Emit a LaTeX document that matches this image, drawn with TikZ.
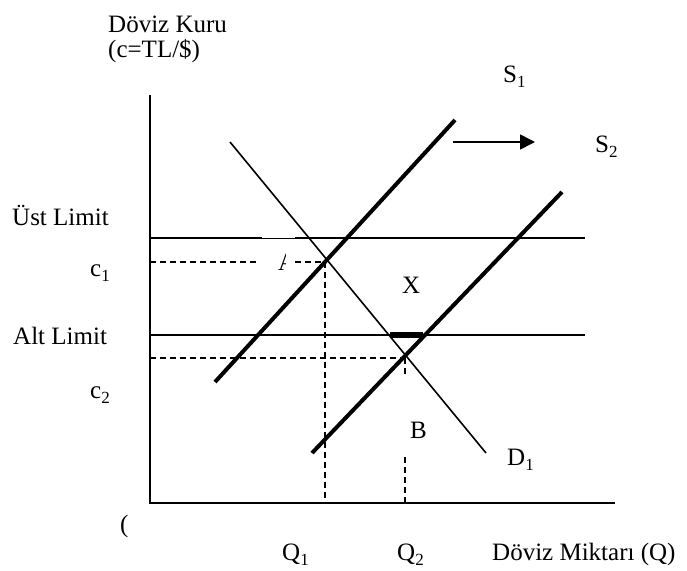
\documentclass[tikz,border=0pt]{standalone}
\usepackage{fontspec}
\setmainfont{Liberation Serif}
\usetikzlibrary{arrows.meta}
\newcommand{\lsub}[1]{\raisebox{-5pt}{\fontsize{17}{17}\selectfont #1}}
\begin{document}
\begin{tikzpicture}[x=1pt,y=-1pt,
  lbl/.style={anchor=base west, inner sep=0pt, font=\fontsize{25}{30}\selectfont},
  axisline/.style={line width=2pt},
  limitline/.style={line width=2.5pt},
  supplyline/.style={line width=4pt},
  demandline/.style={line width=1.6pt},
  guide/.style={line width=1.5pt, dash pattern=on 6pt off 4pt},
  shiftarrow/.style={line width=1.6pt, -{Triangle[length=15pt,width=15pt]}}]
\useasboundingbox (0,0) rectangle (687,570);
% axes
\coordinate (O) at (150,503);
\coordinate (Ytop) at (150,95);
\coordinate (Xend) at (615,503);
\draw[axisline] (Ytop) -- (O) -- (Xend);
% limits
\coordinate (U0) at (150,238);
\coordinate (U1) at (262,238);
\coordinate (U2) at (295,238);
\coordinate (U3) at (585,238);
\draw[limitline] (U0) -- (U1);
\draw[line width=0.8pt] (U1) -- (U2);
\draw[limitline] (U2) -- (U3);
\coordinate (L0) at (150,335);
\coordinate (L1) at (585,335);
\draw[limitline] (L0) -- (L1);
% equilibrium points
\coordinate (A) at (325,262);
\coordinate (Bp) at (405,358);
% guides
\coordinate (c1a) at (150,262);
\coordinate (c1b) at (258,262);
\coordinate (c1c) at (295,262);
\draw[guide] (c1a) -- (c1b);
\draw[guide] (c1c) -- (A);
\coordinate (Q1a) at (325,503);
\draw[guide] (A) -- (Q1a);
\coordinate (c2a) at (150,358);
\draw[guide] (c2a) -- (Bp);
\coordinate (Q2m) at (405,376);
\coordinate (Q2n) at (405,457);
\coordinate (Q2a) at (405,503);
\draw[guide] (Bp) -- (Q2m);
\draw[guide] (Q2n) -- (Q2a);
% demand
\coordinate (D0) at (230,142);
\coordinate (D1e) at (486,453);
\draw[demandline] (D0) -- (D1e);
% supply
\coordinate (S1a) at (215,382);
\coordinate (S1b) at (455,120);
\draw[supplyline] (S1a) -- (S1b);
\coordinate (S2a) at (312,453);
\coordinate (S2b) at (562,192);
\draw[supplyline] (S2a) -- (S2b);
% gap on lower limit
\coordinate (G0) at (390,335);
\coordinate (G1) at (423,335);
\draw[line width=5.5pt] (G0) -- (G1);
% shift arrow
\coordinate (R0) at (453,142);
\coordinate (R1) at (535,142);
\draw[shiftarrow] (R0) -- (R1);
% clipped A label
\begin{scope}
  \clip (270,245) rectangle (285,276);
  \node[lbl] (Alab) at (278,270) {A};
\end{scope}
% labels
\node[lbl] (ylab1) at (108,32) {Döviz Kuru};
\node[lbl] (ylab2) at (108,57) {(c=TL/\$)};
\node[lbl] (ust) at (12,225) {Üst Limit};
\node[lbl] (c1) at (90,276) {c\lsub{1}};
\node[lbl] (alt) at (13,344) {Alt Limit};
\node[lbl] (c2) at (90,398) {c\lsub{2}};
\node[lbl] (Xl) at (402,293) {X};
\node[lbl] (Bl) at (410,438) {B};
\node[lbl] (Dl) at (507,465) {D\lsub{1}};
\node[lbl] (S1l) at (503,82) {S\lsub{1}};
\node[lbl] (S2l) at (595,152) {S\lsub{2}};
\node[lbl] (Q1l) at (282,560) {Q\lsub{1}};
\node[lbl] (Q2l) at (397,560) {Q\lsub{2}};
\node[lbl] (xlab) at (492,560) {Döviz Miktarı (Q)};
\node[lbl] (zero) at (120,532) {(};
\end{tikzpicture}
\end{document}
